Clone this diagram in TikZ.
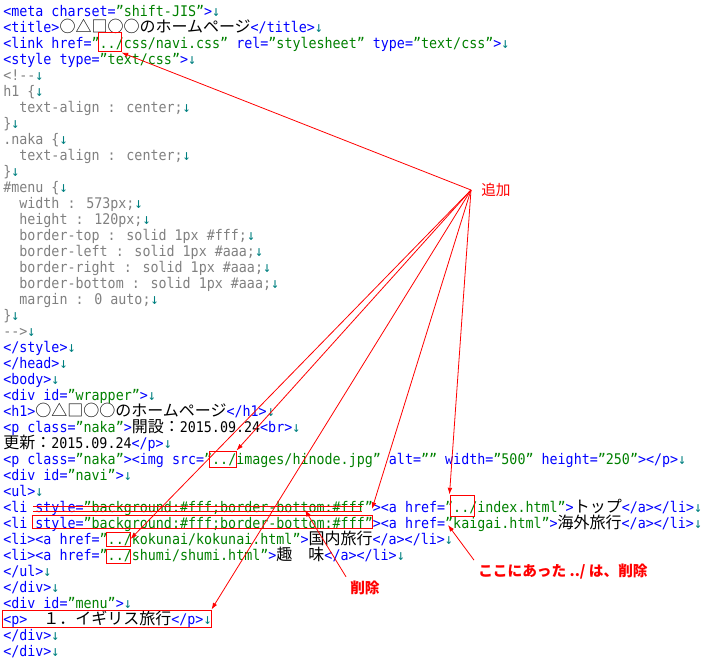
\documentclass[tikz,border=0pt]{standalone}
\usepackage{fontspec}
\usetikzlibrary{positioning}
\usetikzlibrary{fit}
\usetikzlibrary{arrows.meta}
\newfontfamily\codefam[FakeStretch=0.91]{DejaVu Sans Mono}
\newfontfamily\jpfam{Noto Sans CJK JP}
\newcommand\codefont{\codefam\fontsize{11pt}{12pt}\selectfont}
\newcommand\notefont{\jpfam\fontsize{11pt}{13pt}\selectfont}
\definecolor{tagblue}{RGB}{0,0,255}
\definecolor{valgreen}{RGB}{0,128,0}
\definecolor{cssgray}{RGB}{128,128,128}
\definecolor{crteal}{RGB}{0,128,128}
\definecolor{markred}{RGB}{255,0,0}
\newcommand\valc[1]{\textcolor{valgreen}{#1}}
\newcommand\txt[1]{\textcolor{black}{#1}}
\newcommand\J[1]{{\color{black}\jpfam\fontsize{12pt}{12pt}\selectfont #1}}
\newcommand\crlf{\textcolor{crteal}{↓}}
\tikzset{
codeline/.style={ % One line of the listing
anchor=base west,
inner sep=0pt,
text=tagblue,
font=\codefont},
cssline/.style={codeline, text=cssgray}, % Lines inside the style comment
markbox/.style={ % Red frames round the edited parts
draw=markred,
line width=0.75pt,
inner sep=0pt},
note/.style={text=markred, font=\notefont, inner sep=3pt},
every edge/.style={ % Sets the properties for each pointer
draw=markred,
line width=0.6pt,
-{Latex[length=5pt,width=3.5pt]}}}

\begin{document}
\begin{tikzpicture}[x=0.75pt,y=-0.75pt]
	\useasboundingbox (0,0) rectangle (718,660);
	\node[codeline] (l0) at (3,16.5) {<meta charset=\valc{”shift-JIS”}>\crlf};
	\node[codeline] (l1) at (3,32.5) {<title>\J{○△□○○のホームページ}</title>\crlf};
	\node[codeline] (l2) at (3,48.5) {<link href=\valc{”../css/navi.css”} rel=\valc{”stylesheet”} type=\valc{”text/css”}>\crlf};
	\node[codeline] (l3) at (3,64.5) {<style type=\valc{”text/css”}>\crlf};
	\node[cssline] (l4) at (3,80.5) {<!-{}-\crlf};
	\node[cssline] (l5) at (3,96.5) {h1 \{\crlf};
	\node[cssline] (l6) at (3,112.5) {\ \ text-align : center;\crlf};
	\node[cssline] (l7) at (3,128.5) {\}\crlf};
	\node[cssline] (l8) at (3,144.5) {.naka \{\crlf};
	\node[cssline] (l9) at (3,160.5) {\ \ text-align : center;\crlf};
	\node[cssline] (l10) at (3,176.5) {\}\crlf};
	\node[cssline] (l11) at (3,192.5) {\#menu \{\crlf};
	\node[cssline] (l12) at (3,208.5) {\ \ width : 573px;\crlf};
	\node[cssline] (l13) at (3,224.5) {\ \ height : 120px;\crlf};
	\node[cssline] (l14) at (3,240.5) {\ \ border-top : solid 1px \#fff;\crlf};
	\node[cssline] (l15) at (3,256.5) {\ \ border-left : solid 1px \#aaa;\crlf};
	\node[cssline] (l16) at (3,272.5) {\ \ border-right : solid 1px \#aaa;\crlf};
	\node[cssline] (l17) at (3,288.5) {\ \ border-bottom : solid 1px \#aaa;\crlf};
	\node[cssline] (l18) at (3,304.5) {\ \ margin : 0 auto;\crlf};
	\node[cssline] (l19) at (3,320.5) {\}\crlf};
	\node[cssline] (l20) at (3,336.5) {-{}->\crlf};
	\node[codeline] (l21) at (3,352.5) {</style>\crlf};
	\node[codeline] (l22) at (3,368.5) {</head>\crlf};
	\node[codeline] (l23) at (3,384.5) {<body>\crlf};
	\node[codeline] (l24) at (3,400.5) {<div id=\valc{”wrapper”}>\crlf};
	\node[codeline] (l25) at (3,416.5) {<h1>\J{○△□○○のホームページ}</h1>\crlf};
	\node[codeline] (l26) at (3,432.5) {<p class=\valc{”naka”}>\J{開設：}\txt{2015.09.24}<br>\crlf};
	\node[codeline] (l27) at (3,448.5) {\J{更新：}\txt{2015.09.24}</p>\crlf};
	\node[codeline] (l28) at (3,464.5) {<p class=\valc{”naka”}><img src=\valc{”../images/hinode.jpg”} alt=\valc{””} width=\valc{”500”} height=\valc{”250”}></p>\crlf};
	\node[codeline] (l29) at (3,480.5) {<div id=\valc{”navi”}>\crlf};
	\node[codeline] (l30) at (3,496.5) {<ul>\crlf};
	\node[codeline] (l31) at (3,512.5) {<li style=\valc{”background:\#fff;border-bottom:\#fff”}><a href=\valc{”../index.html”}>\J{トップ}</a></li>\crlf};
	\node[codeline] (l32) at (3,528.5) {<li style=\valc{”background:\#fff;border-bottom:\#fff”}><a href=\valc{”kaigai.html”}>\J{海外旅行}</a></li>\crlf};
	\node[codeline] (l33) at (3,544.5) {<li><a href=\valc{”../kokunai/kokunai.html”}>\J{国内旅行}</a></li>\crlf};
	\node[codeline] (l34) at (3,560.5) {<li><a href=\valc{”../shumi/shumi.html”}>\J{趣　味}</a></li>\crlf};
	\node[codeline] (l35) at (3,576.5) {</ul>\crlf};
	\node[codeline] (l36) at (3,592.5) {</div>\crlf};
	\node[codeline] (l37) at (3,608.5) {<div id=\valc{”menu”}>\crlf};
	\node[codeline] (l38) at (3,624.5) {<p>\J{　１．イギリス旅行}</p>\crlf};
	\node[codeline] (l39) at (3,640.5) {</div>\crlf};
	\node[codeline] (l40) at (3,656.5) {</div>\crlf};
	% frames and strike-through
	\node[markbox, fit={(98,33) (121,52)}] (linkbox) {};
	\node[markbox, fit={(209,451) (236,467)}] (imgbox) {};
	\node[markbox, fit={(450,495) (474,516)}] (idxbox) {};
	\node[markbox, fit={(32,515) (372,528)}] (stylebox) {};
	\node[markbox, fit={(106,532) (130,546)}] (kokbox) {};
	\node[markbox, fit={(106,549) (130,563)}] (shubox) {};
	\node[markbox, fit={(2,610) (211,627)}] (pbox) {};
	\draw[draw=markred, line width=0.75pt] (33,506) -- (362,506);
	\draw[draw=markred, line width=0.75pt] (33,511) -- (362,511);
	\coordinate (gt) at (372,509);
	\coordinate (cut) at (305,510);
	\coordinate (gone) at (448,525);
	% notes
	\coordinate (hub) at (471,190);
	\node[note, right=4.5pt of hub] (add) {追加};
	\node[note, anchor=west, font=\notefont\bfseries] (del) at (346,588) {削除};
	\node[note, anchor=west, font=\notefont\bfseries] (was) at (474,572) {ここにあった ../ は、削除};
	\draw (hub) edge (linkbox.south east);
	\draw (hub) edge (imgbox.north east);
	\draw (hub) edge (kokbox.east);
	\draw (hub) edge (pbox.north east);
	\draw (hub) edge (gt);
	\draw (hub) edge (idxbox.north west);
	\draw (del.north west) edge (cut);
	\draw (was.north west) edge (gone);
\end{tikzpicture}
\end{document}
